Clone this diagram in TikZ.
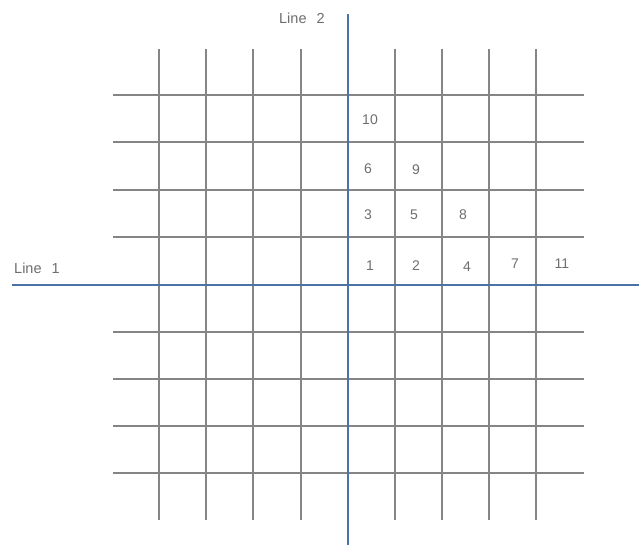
\documentclass[tikz,border=0pt]{standalone}
\usepackage{fontspec}
\setmainfont{Liberation Sans}
\definecolor{gridgray}{HTML}{858585}
\definecolor{axisblue}{HTML}{4A72A6}
\definecolor{txtgray}{HTML}{6E6E6E}
\begin{document}
\begin{tikzpicture}[x=1pt,y=-1pt,
  gridline/.style={draw=gridgray,line width=1.3pt},
  axisline/.style={draw=axisblue,line width=1.8pt},
  lbl/.style={text=txtgray,font=\fontsize{14.5}{14.5}\selectfont,inner sep=0pt},
  num/.style={text=txtgray,font=\fontsize{14}{14}\selectfont,inner sep=0pt}]
\useasboundingbox (0,0) rectangle (639,545);
\fill[white] (0,0) rectangle (639,545);
% horizontal grid lines
\foreach \y in {95,142,190,237,332,379,426,473}
  \draw[gridline] (113,\y) -- (584,\y);
% vertical grid lines
\foreach \x in {159,206,253,301,395,442,489,536}
  \draw[gridline] (\x,49) -- (\x,520);
% axes
\coordinate (h1) at (12,285);
\coordinate (h2) at (639,285);
\coordinate (v1) at (348,14);
\coordinate (v2) at (348,545);
\draw[axisline] (h1) -- (h2);
\draw[axisline] (v1) -- (v2);
% labels
\node[lbl,anchor=base east] (l2) at (325,24) {Line\hspace{0.7em}2};
\node[lbl,anchor=base west] (l1) at (14,273) {Line\hspace{0.7em}1};
% numbers
\node[num] (n1)  at (370,266) {1};
\node[num] (n2)  at (416,266) {2};
\node[num] (n4)  at (467,267) {4};
\node[num] (n7)  at (515,264) {7};
\node[num] (n11) at (562,264) {11};
\node[num] (n3)  at (368,215) {3};
\node[num] (n5)  at (414,215) {5};
\node[num] (n8)  at (463,215) {8};
\node[num] (n6)  at (368,169) {6};
\node[num] (n9)  at (416,170) {9};
\node[num] (n10) at (370,120) {10};
\end{tikzpicture}
\end{document}
